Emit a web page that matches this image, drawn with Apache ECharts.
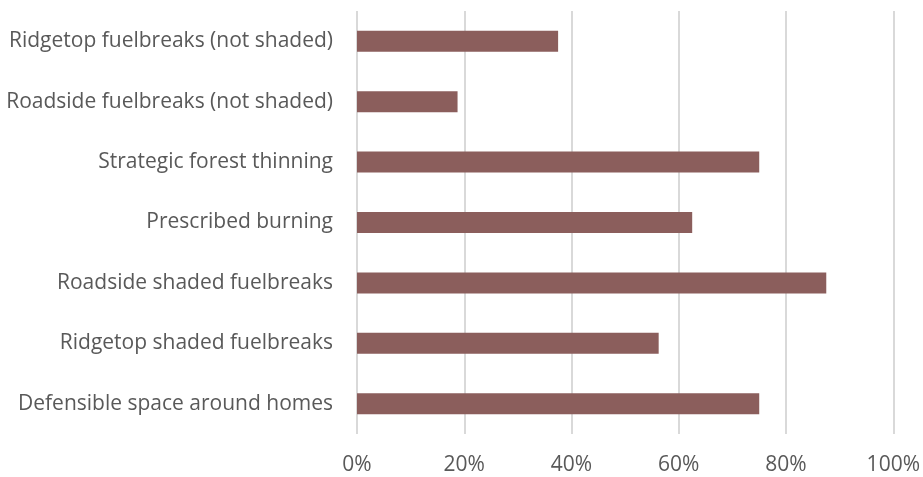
<!DOCTYPE html>
<html>
<head>
<meta charset="utf-8">
<script src="https://cdn.jsdelivr.net/npm/echarts@6/dist/echarts.min.js"></script>
<style>
  html, body { margin: 0; padding: 0; background: #fff; }
  #chart { width: 923px; height: 477px; }
</style>
</head>
<body>
<div id="chart"></div>
<script>
// categories listed bottom to top (category axis starts at the bottom)
var categories = [
    'Defensible space around homes',
    'Ridgetop shaded fuelbreaks',
    'Roadside shaded fuelbreaks',
    'Prescribed burning',
    'Strategic forest thinning',
    'Roadside fuelbreaks (not shaded)',
    'Ridgetop fuelbreaks (not shaded)'
];
var shares = [0.75, 0.5625, 0.875, 0.625, 0.75, 0.1875, 0.375];

var chart = echarts.init(document.getElementById('chart'));

var textStyle = {
    color: '#595959',
    fontFamily: 'Open Sans',
    fontSize: 21
};

chart.setOption({
    animation: false,
    grid: { left: 357, right: 28, top: 11, bottom: 43, containLabel: false },
    xAxis: {
        type: 'value',
        min: 0,
        max: 1,
        interval: 0.2,
        axisLine: { show: false },
        axisTick: { show: false },
        splitLine: { lineStyle: { color: '#d9d9d9', width: 2 } },
        axisLabel: Object.assign({
            margin: 21,
            formatter: function (v) { return Math.round(v * 100) + '%'; }
        }, textStyle)
    },
    yAxis: {
        type: 'category',
        data: categories,
        axisLine: { show: false },
        axisTick: { show: false },
        axisLabel: Object.assign({ margin: 24 }, textStyle)
    },
    series: [{
        type: 'bar',
        data: shares,
        barWidth: 21,
        itemStyle: { color: '#8b5e5c' }
    }]
});
</script>
</body>
</html>
